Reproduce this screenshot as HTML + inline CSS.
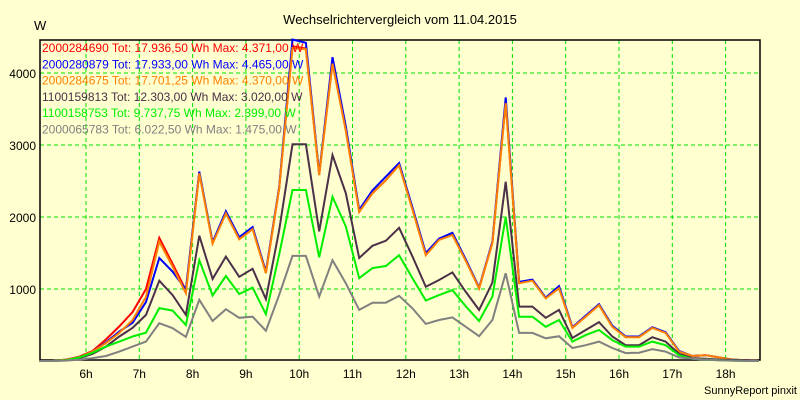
<!DOCTYPE html>
<html><head><meta charset="utf-8"><style>
body{margin:0;background:#ffffd0;}
svg{display:block;font-family:"Liberation Sans",sans-serif;}
</style></head><body>
<svg id="chart" width="800" height="400" viewBox="0 0 800 400" xmlns="http://www.w3.org/2000/svg">
<rect x="0" y="0" width="800" height="400" fill="#ffffd0"/>
<text x="400" y="24" text-anchor="middle" font-size="13" fill="#000">Wechselrichtervergleich vom 11.04.2015</text>
<text x="34" y="30" font-size="13" fill="#000">W</text>
<text x="797" y="394" text-anchor="end" font-size="11" fill="#000">SunnyReport pinxit</text>
<g id="grid"></g><g id="axes"></g><g id="series"></g><g id="legend"></g>
</svg>
<script>
const hourTicks=[6,7,8,9,10,11,12,13,14,15,16,17,18];
const yTicks=[1000,2000,3000,4000];
const startHour=5.125, stepHour=0.25;
const seriesNames=["2000284690","2000280879","2000284675","1100159813","1100158753","2000065783"];
const seriesTotals=["17.936,50","17.933,00","17.701,25","12.303,00","9.737,75","6.022,50"];
const seriesMax=["4.371,00","4.465,00","4.370,00","3.020,00","2.399,00","1.475,00"];
const seriesColors=["#ff0000","#0000ff","#ff8000","#4a3048","#00ee00","#808080"];
const s1=[0,0,20,60,140,300,480,680,1000,1710,1350,980,2620,1640,2060,1700,1840,1230,2400,4370,4340,2590,4140,3210,2080,2330,2510,2730,2110,1480,1690,1760,1400,1010,1640,3600,1090,1120,875,1020,465,620,780,480,335,335,465,395,135,70,80,50,20,10,0];
const s2=[0,0,20,50,130,260,410,530,820,1430,1240,990,2630,1650,2080,1720,1860,1240,2420,4465,4420,2600,4220,3260,2100,2370,2560,2750,2130,1500,1700,1780,1410,1020,1660,3660,1100,1130,880,1040,470,630,790,490,340,340,470,400,140,70,80,50,20,10,0];
const s3=[0,0,20,50,130,250,390,570,890,1660,1310,940,2605,1630,2050,1690,1830,1220,2400,4350,4330,2580,4130,3200,2070,2330,2510,2720,2100,1470,1680,1750,1390,1010,1640,3580,1080,1115,870,1010,460,615,775,475,330,330,460,390,130,70,80,50,20,10,0];
const s4=[0,0,10,40,100,200,340,460,640,1115,915,640,1740,1140,1450,1170,1280,860,1820,3010,3010,1800,2860,2330,1430,1600,1670,1850,1450,1030,1125,1230,960,710,1090,2490,755,755,600,710,320,430,540,340,220,220,330,270,100,40,30,20,15,10,0];
const s5=[0,0,10,50,115,200,270,340,395,735,700,500,1400,910,1180,930,1020,650,1480,2375,2375,1440,2280,1870,1150,1290,1320,1470,1150,840,915,985,760,555,895,2000,615,615,475,570,270,360,430,290,200,200,270,220,80,30,20,10,5,0,0];
const s6=[0,0,5,20,40,70,130,200,270,525,455,335,850,555,720,600,615,420,920,1460,1460,895,1400,1080,710,810,810,905,730,515,570,605,475,345,570,1220,390,390,315,345,180,220,270,180,110,115,165,130,50,30,20,10,5,0,0];
const allSeries=[s1,s2,s3,s4,s5,s6];
const NS="http://www.w3.org/2000/svg";
const L=40,R=760,T=40,B=360;
function xScale(h){return 86+(h-6)*53.3;}
function yScale(v){return 361-v*0.072;}
function mk(tag,attrs,parent){const e=document.createElementNS(NS,tag);for(const k in attrs)e.setAttribute(k,attrs[k]);parent.appendChild(e);return e;}
const grid=document.getElementById('grid'),axes=document.getElementById('axes'),ser=document.getElementById('series'),leg=document.getElementById('legend');
hourTicks.forEach(h=>{const x=xScale(h);
 const l=mk('line',{x1:x,x2:x,y1:T,y2:B,stroke:'#00e000','stroke-dasharray':'4,3','stroke-width':1},grid);
 
 
 const t=mk('text',{x:x,y:378,'text-anchor':'middle','font-size':12,fill:'#000'},axes);t.textContent=h+'h';
 
 });
yTicks.forEach(v=>{const y=yScale(v);
 const l=mk('line',{x1:L,x2:R,y1:y,y2:y,stroke:'#00e000','stroke-dasharray':'4,3','stroke-width':1},grid);
 
 
 const t=mk('text',{x:36,y:y+5,'text-anchor':'end','font-size':12,fill:'#000'},axes);t.textContent=v;
 
 });
const frame=mk('rect',{x:L,y:T,width:R-L,height:B-T,fill:'none',stroke:'#000','stroke-width':1.5},axes);


allSeries.forEach((s,si)=>{
 const pts=s.map((v,i)=>xScale(startHour+i*stepHour).toFixed(1)+','+yScale(v).toFixed(1)).join(' ');
 const p=mk('polyline',{points:pts,fill:'none',stroke:seriesColors[si],'stroke-width':2,'stroke-linejoin':'miter'},ser);
 
 
 const t=mk('text',{x:42,y:52+si*16.3,'font-size':12,fill:seriesColors[si]},leg);
 t.textContent=seriesNames[si]+' Tot: '+seriesTotals[si]+' Wh Max: '+seriesMax[si]+' W';
 
 
});
</script>
</body></html>
